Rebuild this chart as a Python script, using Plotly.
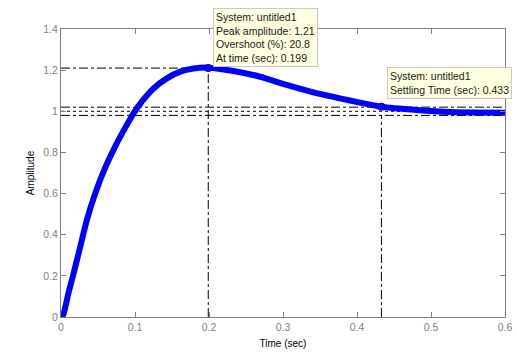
import plotly.graph_objects as go

# Step response
time_s = [0.0, 0.003, 0.010, 0.017, 0.026, 0.035, 0.046, 0.059, 0.075, 0.088,
          0.098, 0.111, 0.125, 0.143, 0.161, 0.179, 0.199, 0.233, 0.269, 0.305,
          0.341, 0.377, 0.404, 0.433, 0.481, 0.526, 0.56, 0.6]
amplitude = [0.0, 0.01, 0.115, 0.212, 0.342, 0.472, 0.598, 0.72, 0.842, 0.928,
             0.99, 1.055, 1.111, 1.16, 1.193, 1.208, 1.212, 1.196, 1.168, 1.128,
             1.092, 1.063, 1.042, 1.022, 1.006, 0.996, 0.994, 0.993]

peak_time = 0.199
peak_amp = 1.21
overshoot = 20.8
settle_time = 0.433
settle_amp = 1.022
band_hi, final_val, band_lo = 1.02, 1.0, 0.98

x_ticks = [0, 0.1, 0.2, 0.3, 0.4, 0.5, 0.6]
x_tick_text = ["0", "0.1", "0.2", "0.3", "0.4", "0.5", "0.6"]
y_ticks = [0, 0.2, 0.4, 0.6, 0.8, 1.0, 1.2, 1.4]
y_tick_text = ["0", "0.2", "0.4", "0.6", "0.8", "1", "1.2", "1.4"]

fig = go.Figure()

line_style = dict(color="black", width=1, dash="dashdot")
# settling band lines
fig.add_trace(go.Scatter(x=[0, 0.6], y=[band_hi, band_hi], mode="lines", line=line_style, hoverinfo="skip"))
fig.add_trace(go.Scatter(x=[0, 0.6], y=[final_val, final_val], mode="lines",
                         line=dict(color="black", width=1, dash="dot"), hoverinfo="skip"))
fig.add_trace(go.Scatter(x=[0, 0.6], y=[band_lo, band_lo], mode="lines", line=line_style, hoverinfo="skip"))
# peak lines
fig.add_trace(go.Scatter(x=[0, peak_time], y=[peak_amp, peak_amp], mode="lines", line=line_style, hoverinfo="skip"))
fig.add_trace(go.Scatter(x=[peak_time, peak_time], y=[0, peak_amp], mode="lines", line=line_style, hoverinfo="skip"))
# settling time line
fig.add_trace(go.Scatter(x=[settle_time, settle_time], y=[0, band_lo], mode="lines", line=line_style, hoverinfo="skip"))

# response
fig.add_trace(go.Scatter(x=time_s, y=amplitude, mode="lines",
                         line=dict(color="#0000ff", width=6, shape="spline", smoothing=0.5)))
# markers
fig.add_trace(go.Scatter(x=[peak_time, settle_time], y=[peak_amp, settle_amp], mode="markers",
                         marker=dict(color="#0000ff", size=8)))

font_main = "Liberation Sans, Arial, sans-serif"

fig.update_layout(
    width=517, height=352,
    margin=dict(l=61, r=12, t=29, b=35),
    paper_bgcolor="white", plot_bgcolor="white",
    showlegend=False,
    font=dict(family=font_main, size=10, color="black"),
    xaxis=dict(range=[0, 0.6], tickvals=x_ticks, ticktext=x_tick_text, automargin=False,
               showgrid=False, zeroline=False, showline=True, linecolor="#808080", linewidth=1,
               mirror="allticks", ticks="inside", ticklen=5, tickcolor="#808080",
               tickfont=dict(color="#808080", size=10.5),
               title=dict(text="Time (sec)", font=dict(size=10, color="black"), standoff=8)),
    yaxis=dict(range=[0, 1.4], tickvals=y_ticks, ticktext=y_tick_text, automargin=False,
               showgrid=False, zeroline=False, showline=True, linecolor="#808080", linewidth=1,
               mirror="allticks", ticks="inside", ticklen=5, tickcolor="#808080",
               tickfont=dict(color="#808080", size=10.5),
               title=dict(text="Amplitude", font=dict(size=10, color="black"), standoff=6)),
)

fig.add_annotation(
    xref="paper", yref="paper", x=0.342, y=1.073, xanchor="left", yanchor="top",
    text=f"System: untitled1<br>Peak amplitude: {peak_amp}<br>Overshoot (%): {overshoot}<br>At time (sec): {peak_time}",
    align="left", showarrow=False, bgcolor="#ffffe1", bordercolor="#c8c8c8", borderwidth=1,
    borderpad=2, font=dict(size=10.5, color="#202020"))
fig.add_annotation(
    xref="paper", yref="paper", x=0.734, y=0.869, xanchor="left", yanchor="top",
    text=f"System: untitled1<br>Settling Time (sec): {settle_time}",
    align="left", showarrow=False, bgcolor="#ffffe1", bordercolor="#c8c8c8", borderwidth=1,
    borderpad=2, font=dict(size=10.5, color="#202020"))

fig.write_html("out.html", config={"displayModeBar": False},
               post_script="document.body.style.margin='0';")
